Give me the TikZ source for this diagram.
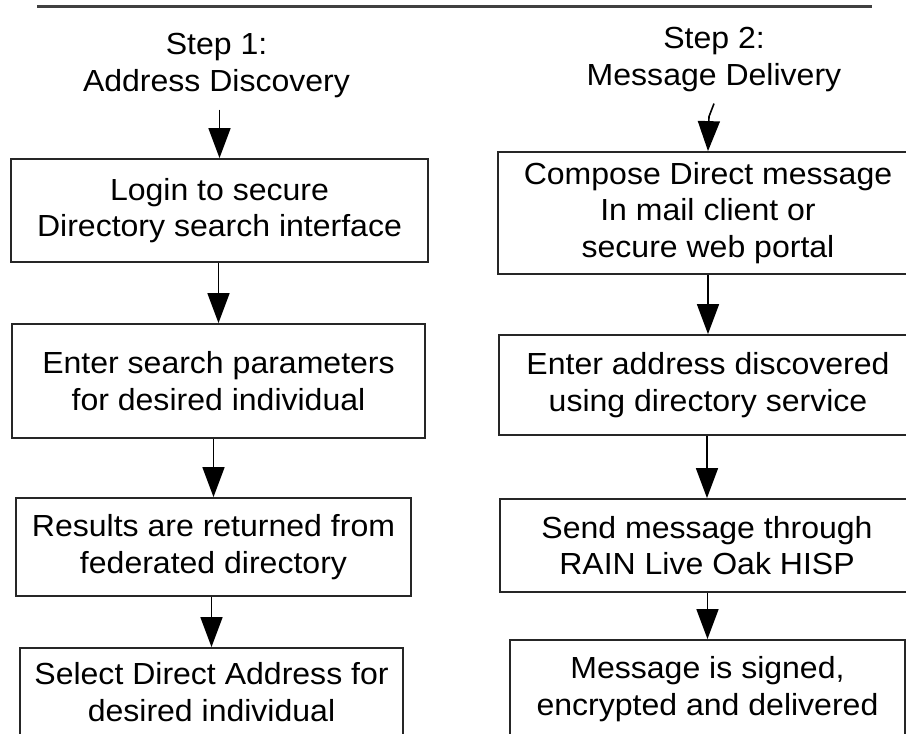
\documentclass[tikz,border=0pt]{standalone}
\usepackage{fontspec}
\setmainfont[FakeStretch=1.05]{Liberation Sans}
\usetikzlibrary{arrows.meta}

\begin{document}
\begin{tikzpicture}[x=1pt, y=-1pt, font=\fontsize{30.5}{36.5}\selectfont,
    >={Triangle[length=30pt, width=22pt]},
    stepbox/.style={draw=black!85, line width=1.8pt, inner sep=0pt, align=center},
    steptitle/.style={inner sep=0pt, outer sep=12pt, align=center},
    flow/.style={->, line width=1.6pt}]
    \useasboundingbox (0,0) rectangle (906,734);

    \draw[line width=3pt, black!75] (37,6) -- (872,6);

    \node[steptitle](title1) at (216.5,65.5) {Step 1:\\Address Discovery};
    \node[steptitle](title2) at (714,59.5) {Step 2:\\Message Delivery};

    % step 1 column
    \node[stepbox, minimum width=417pt, minimum height=103pt](boxL1) at (219.5,210.5) {Login to secure\\Directory search interface};
    \node[stepbox, minimum width=413pt, minimum height=114pt](boxL2) at (218.5,381) {Enter search parameters\\for desired individual};
    \node[stepbox, minimum width=395pt, minimum height=98pt](boxL3) at (213.5,547) {Results are returned from\\federated directory};
    \node[stepbox, minimum width=383pt, minimum height=88pt](boxL4) at (211.5,692) {Select Direct Address for\\desired individual};

    % step 2 column
    \node[stepbox, minimum width=420pt, minimum height=122pt](boxR1) at (708,213) {Compose Direct message\\In mail client or\\secure web portal};
    \node[stepbox, minimum width=418pt, minimum height=100pt](boxR2) at (708,385) {Enter address discovered\\using directory service};
    \node[stepbox, minimum width=414pt, minimum height=93pt](boxR3) at (707,545.5) {Send message through\\RAIN Live Oak HISP};
    \node[stepbox, minimum width=395pt, minimum height=98pt](boxR4) at (707.5,689) {Message is signed,\\encrypted and delivered};

        \draw[flow] (title1.south -| boxL1) -- (boxL1);
        \draw[flow] (boxL1.south -| boxL2) -- (boxL2);
        \draw[flow] (boxL2.south -| boxL3) -- (boxL3);
        \draw[flow] (boxL3.south -| boxL4) -- (boxL4);

        \draw[flow] (title2.south) -- ++(-5,13) -- (boxR1.north);
        \draw[flow] (boxR1.south -| boxR2) -- (boxR2);
        \draw[flow] (boxR2.south -| boxR3) -- (boxR3);
        \draw[flow] (boxR3.south -| boxR4) -- (boxR4);
\end{tikzpicture}
\end{document}
